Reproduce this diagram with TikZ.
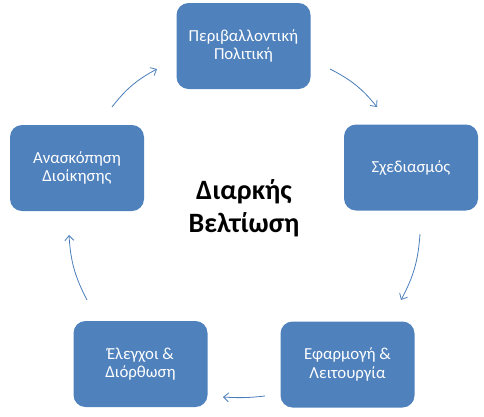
\documentclass[tikz,border=0pt]{standalone}
\usepackage{fontspec}
\setmainfont{Carlito}
\usetikzlibrary{arrows.meta}
\definecolor{boxblue}{HTML}{4F81BD}
\definecolor{arrowblue}{HTML}{4A7EBB}
\begin{document}
\begin{tikzpicture}[x=1pt,y=-1pt,
  stagebox/.style={fill=boxblue, draw=none, rounded corners=12pt,
    minimum width=134pt, minimum height=86pt, text=white, align=center,
    font=\fontsize{16.8pt}{18.5pt}\selectfont, inner sep=0pt},
  cyclearrow/.style={draw=arrowblue, line width=0.8pt,
    -{Straight Barb[length=5pt,width=9pt]}}]
\useasboundingbox (0,0) rectangle (484,416);
\node[stagebox] (pol) at (243.5,46) {Περιβαλλοντική\\Πολιτική};
\node[stagebox] (plan) at (411,167.5) {Σχεδιασμός};
\node[stagebox] (impl) at (347.5,364.5) {Εφαρμογή \&\\Λειτουργία};
\node[stagebox] (chk) at (140.5,364) {Έλεγχοι \&\\Διόρθωση};
\node[stagebox] (rev) at (77,168) {Ανασκόπηση\\Διοίκησης};
\node[font=\fontsize{28pt}{33pt}\selectfont\bfseries, align=center] (ctr) at (244,208) {Διαρκής\\Βελτίωση};
\coordinate (a1s) at (330,69);  \coordinate (a1e) at (377,107);
\coordinate (a2s) at (420,234); \coordinate (a2e) at (401,300);
\coordinate (a3s) at (265,396); \coordinate (a3e) at (223,397);
\coordinate (a4s) at (87,300);  \coordinate (a4e) at (69,235);
\coordinate (a5s) at (112,107); \coordinate (a5e) at (157,69);
\draw[cyclearrow] (a1s) to[bend left=12] (a1e);
\draw[cyclearrow] (a2s) to[bend left=12] (a2e);
\draw[cyclearrow] (a3s) to[bend left=5] (a3e);
\draw[cyclearrow] (a4s) to[bend left=12] (a4e);
\draw[cyclearrow] (a5s) to[bend left=12] (a5e);
\end{tikzpicture}
\end{document}
